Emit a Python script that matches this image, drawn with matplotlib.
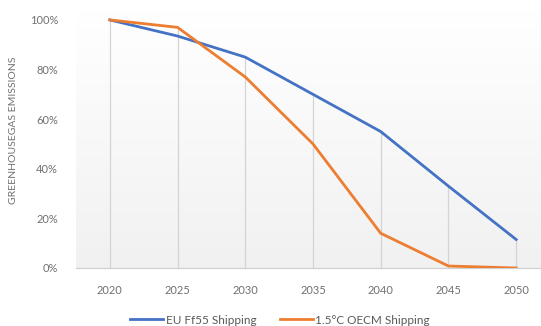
import matplotlib
import numpy as np

matplotlib.use("Agg")
import matplotlib.pyplot as plt

years = [2020, 2025, 2030, 2035, 2040, 2045, 2050]
eu_ff55 = [100, 93.5, 85, 70, 55, 33, 11.5]
oecm_15c = [100, 97, 77, 50, 14, 0.8, 0]
series_names = ["EU Ff55 Shipping", "1.5°C OECM Shipping"]
y_ticks = [0, 20, 40, 60, 80, 100]

plt.rcParams["font.family"] = ["Lato", "DejaVu Sans"]

fig = plt.figure(figsize=(5.41, 3.26), dpi=100)
ax = fig.add_axes([76 / 541, 58 / 326, 474 / 541, 258 / 326])
ax.set_xlim(2017.5, 2052.5)
ax.set_ylim(0, 104)

# soft vertical gradient behind the plot area
grad = np.linspace(1.0, 0.945, 256).reshape(-1, 1)
ax.imshow(np.dstack([grad, grad, grad]), extent=[0, 1, 0, 1], transform=ax.transAxes,
          aspect="auto", zorder=0)

# drop lines from the highest series down to the axis
tops = np.maximum(eu_ff55, oecm_15c)
ax.vlines(years, 0, tops, color="#d4d4d4", linewidth=0.9, zorder=1)

ax.plot(years, eu_ff55, color="#4472C4", linewidth=2.0, label=series_names[0], zorder=3)
ax.plot(years, oecm_15c, color="#ED7D31", linewidth=2.0, label=series_names[1], zorder=3)

for side in ["top", "right", "left"]:
    ax.spines[side].set_visible(False)
ax.spines["bottom"].set_color("#d0d0d0")
ax.spines["bottom"].set_linewidth(0.9)

ax.set_xticks(years)
ax.set_yticks(y_ticks)
ax.set_yticklabels([f"{v}%" for v in y_ticks])
ax.tick_params(axis="both", length=0, labelsize=8, labelcolor="#707070")
ax.tick_params(axis="x", pad=12)
ax.tick_params(axis="y", pad=13)

fig.text(14 / 541, (326 - 130) / 326, "GREENHOUSEGAS EMISSIONS", rotation=90,
         ha="center", va="center", fontsize=7.5, color="#707070")

fig.legend(loc="center", bbox_to_anchor=(280 / 541, 6 / 326), ncol=2, frameon=False,
           fontsize=8.5, handlelength=2.8, columnspacing=2.0, handletextpad=0.2,
           labelcolor="#595959")

fig.savefig("out.png", dpi=100)
